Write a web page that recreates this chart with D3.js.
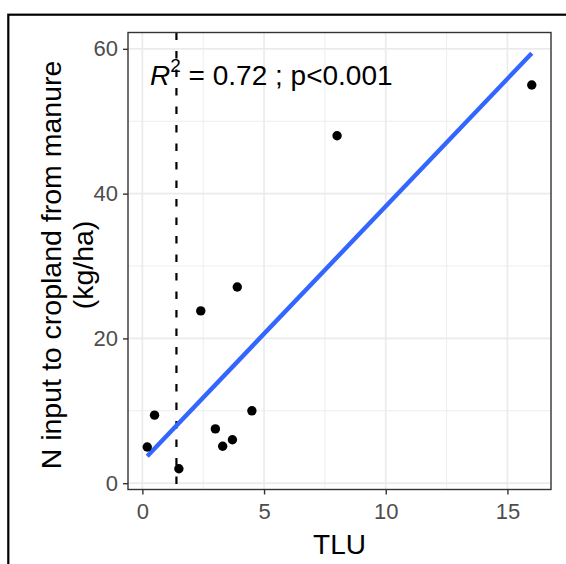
<!DOCTYPE html>
<html>
<head>
<meta charset="utf-8">
<script src="https://cdn.jsdelivr.net/npm/d3@7"></script>
<style>
  html, body { margin: 0; padding: 0; background: #fff; }
  svg { display: block; }
</style>
</head>
<body>
<svg id="chart" width="566" height="564"></svg>
<script>
// ---- data ----
const tlu = [0.2, 0.5, 1.5, 2.4, 3.0, 3.3, 3.7, 3.9, 4.5, 8.0, 16.0];
const nInput = [5.0, 9.4, 2.0, 23.8, 7.5, 5.1, 6.0, 27.1, 10.0, 48.0, 55.0];
const xTicks = [0, 5, 10, 15];
const yTicks = [0, 20, 40, 60];
const xMinor = [2.5, 7.5, 12.5];
const yMinor = [10, 30, 50];
const thresholdTLU = [1.4];
const annotationText = ["R", "2", " = 0.72 ; p<0.001"];

// ---- layout ----
const W = 566, H = 564;
const panel = { left: 128, top: 32.5, right: 551, bottom: 489.5 };
const font = "'Liberation Sans', Arial, sans-serif";

// ---- regression (OLS) ----
const n = tlu.length;
const mx = d3.mean(tlu), my = d3.mean(nInput);
let sxy = 0, sxx = 0;
for (let i = 0; i < n; i++) { sxy += (tlu[i] - mx) * (nInput[i] - my); sxx += (tlu[i] - mx) ** 2; }
const slope = sxy / sxx, intercept = my - slope * mx;
const xExt = d3.extent(tlu);
const fit = xExt.map(x => [x, intercept + slope * x]);

// ---- scales with ggplot-style 5% expansion ----
const expand = (lo, hi) => { const r = hi - lo; return [lo - 0.05 * r, hi + 0.05 * r]; };
const yAll = nInput.concat(fit.map(d => d[1]));
const x = d3.scaleLinear().domain(expand(xExt[0], xExt[1])).range([panel.left, panel.right]);
const y = d3.scaleLinear().domain(expand(d3.min(yAll), d3.max(yAll))).range([panel.bottom, panel.top]);

const svg = d3.select("#chart");
svg.append("rect").attr("width", W).attr("height", H).attr("fill", "#fff");

// outer frame
svg.append("rect").attr("x", 8.3).attr("y", 14.7).attr("width", 700).attr("height", 700)
  .attr("fill", "none").attr("stroke", "#000").attr("stroke-width", 2.2);

const g = svg.append("g");
g.append("rect").attr("x", panel.left).attr("y", panel.top)
  .attr("width", panel.right - panel.left).attr("height", panel.bottom - panel.top).attr("fill", "#fff");

// grid
const grid = g.append("g");
grid.selectAll(".xmin").data(xMinor).join("line")
  .attr("x1", d => x(d)).attr("x2", d => x(d)).attr("y1", panel.top).attr("y2", panel.bottom)
  .attr("stroke", "#EBEBEB").attr("stroke-width", 0.9);
grid.selectAll(".ymin").data(yMinor).join("line")
  .attr("y1", d => y(d)).attr("y2", d => y(d)).attr("x1", panel.left).attr("x2", panel.right)
  .attr("stroke", "#EBEBEB").attr("stroke-width", 0.9);
grid.selectAll(".xmaj").data(xTicks).join("line")
  .attr("x1", d => x(d)).attr("x2", d => x(d)).attr("y1", panel.top).attr("y2", panel.bottom)
  .attr("stroke", "#EBEBEB").attr("stroke-width", 1.7);
grid.selectAll(".ymaj").data(yTicks).join("line")
  .attr("y1", d => y(d)).attr("y2", d => y(d)).attr("x1", panel.left).attr("x2", panel.right)
  .attr("stroke", "#EBEBEB").attr("stroke-width", 1.7);

// dashed threshold
g.selectAll(".thr").data(thresholdTLU).join("line")
  .attr("x1", d => x(d)).attr("x2", d => x(d)).attr("y1", panel.top).attr("y2", panel.bottom)
  .attr("stroke", "#000").attr("stroke-width", 2.2).attr("stroke-dasharray", "7.5,11");

// regression line
g.append("path").datum(fit)
  .attr("d", d3.line().x(d => x(d[0])).y(d => y(d[1])))
  .attr("fill", "none").attr("stroke", "#3366FF").attr("stroke-width", 4.4);

// points
g.selectAll(".pt").data(d3.range(n)).join("circle")
  .attr("cx", i => x(tlu[i])).attr("cy", i => y(nInput[i])).attr("r", 4.7).attr("fill", "#000");

// annotation
const ann = g.append("text").attr("x", 150).attr("y", 85)
  .attr("font-family", font).attr("font-size", 28).attr("fill", "#000");
ann.append("tspan").attr("font-style", "italic").text(annotationText[0]);
ann.append("tspan").attr("font-size", 19).attr("dy", -13).text(annotationText[1]);
ann.append("tspan").attr("dy", 13).text(annotationText[2]);

// panel border
g.append("rect").attr("x", panel.left).attr("y", panel.top)
  .attr("width", panel.right - panel.left).attr("height", panel.bottom - panel.top)
  .attr("fill", "none").attr("stroke", "#333333").attr("stroke-width", 1.4);

// axes
const xAxis = svg.append("g").attr("transform", `translate(0,${panel.bottom})`)
  .call(d3.axisBottom(x).tickValues(xTicks).tickSize(5).tickPadding(4).tickFormat(d3.format("d")));
const yAxis = svg.append("g").attr("transform", `translate(${panel.left},0)`)
  .call(d3.axisLeft(y).tickValues(yTicks).tickSize(5).tickPadding(5).tickFormat(d3.format("d")));
[xAxis, yAxis].forEach(a => {
  a.select(".domain").remove();
  a.selectAll(".tick line").attr("stroke", "#333333").attr("stroke-width", 1.4);
  a.selectAll(".tick text").attr("fill", "#4D4D4D").attr("font-family", font).attr("font-size", 22);
});
xAxis.selectAll(".tick text").attr("dy", "0.95em");

// axis titles
svg.append("text").attr("x", (panel.left + panel.right) / 2).attr("y", 554)
  .attr("text-anchor", "middle").attr("font-family", font).attr("font-size", 28).attr("fill", "#000")
  .text("TLU");
const yt = svg.append("text").attr("transform", `translate(0,${(panel.top + panel.bottom) / 2 + 4}) rotate(-90)`)
  .attr("text-anchor", "middle").attr("font-family", font).attr("font-size", 28.5).attr("fill", "#000");
yt.append("tspan").attr("x", 0).attr("y", 61).text("N input to cropland from manure");
yt.append("tspan").attr("x", 0).attr("y", 93).text("(kg/ha)");
</script>
</body>
</html>
